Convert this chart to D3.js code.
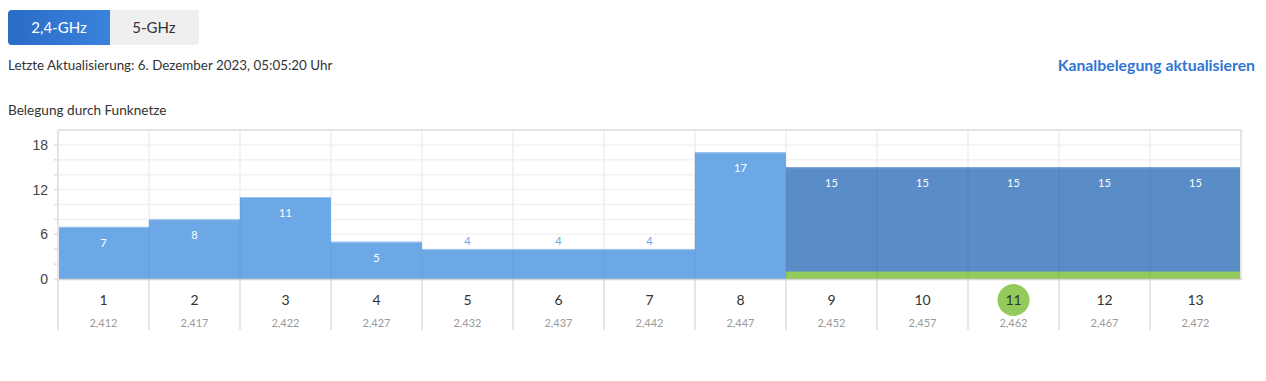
<!DOCTYPE html>
<html>
<head>
<meta charset="utf-8">
<script src="https://cdn.jsdelivr.net/npm/d3@7"></script>
<style>
  body { margin: 0; background: #fff; }
  svg { display: block; font-family: "Source Sans Pro", Lato, "Open Sans", sans-serif; }
</style>
</head>
<body>
<div id="chart-container"></div>
<script>
// Channel occupancy, 2.4 GHz band
const channels = [1, 2, 3, 4, 5, 6, 7, 8, 9, 10, 11, 12, 13];
const frequencies = ["2,412", "2,417", "2,422", "2,427", "2,432", "2,437", "2,442",
                     "2,447", "2,452", "2,457", "2,462", "2,467", "2,472"];
const networks = [7, 8, 11, 5, 4, 4, 4, 17, 15, 15, 15, 15, 15];
// channels covered by the own wifi (green strip underneath)
const ownNetwork = [0, 0, 0, 0, 0, 0, 0, 0, 1, 1, 1, 1, 1];
const activeChannel = 11;
const yTicks = [0, 6, 12, 18];

const W = 1266, H = 381;
const svg = d3.select("#chart-container")
  .append("svg")
  .attr("width", W)
  .attr("height", H);

/**************************************************
 * Header: band tabs, timestamp, refresh link
 **************************************************/
const defs = svg.append("defs");
const grad = defs.append("linearGradient")
  .attr("id", "tabGrad")
  .attr("x1", 0).attr("y1", 0).attr("x2", 1).attr("y2", 0);
grad.append("stop").attr("offset", "0%").attr("stop-color", "#2a6cc6");
grad.append("stop").attr("offset", "100%").attr("stop-color", "#3a82dc");

svg.append("path")
  .attr("d", "M199,10 L199,41 Q199,45 195,45 L110,45 L110,10 Z")
  .attr("fill", "#efefef");
svg.append("path")
  .attr("d", "M12,10 L110,10 L110,45 L12,45 Q8,45 8,41 L8,14 Q8,10 12,10 Z")
  .attr("fill", "url(#tabGrad)");
svg.append("text")
  .attr("x", 59).attr("y", 33)
  .attr("text-anchor", "middle")
  .attr("font-size", "15px")
  .attr("fill", "#fff")
  .text("2,4-GHz");
svg.append("text")
  .attr("x", 154).attr("y", 33)
  .attr("text-anchor", "middle")
  .attr("font-size", "15px")
  .attr("fill", "#333")
  .text("5-GHz");

svg.append("text")
  .attr("x", 8).attr("y", 70)
  .attr("font-size", "13.4px")
  .attr("fill", "#333")
  .text("Letzte Aktualisierung: 6. Dezember 2023, 05:05:20 Uhr");

svg.append("text")
  .attr("x", 1255).attr("y", 71)
  .attr("text-anchor", "end")
  .attr("font-size", "15.8px")
  .attr("font-weight", "bold")
  .attr("fill", "#3176d4")
  .text("Kanalbelegung aktualisieren");

svg.append("text")
  .attr("x", 8).attr("y", 115)
  .attr("font-size", "13.6px")
  .attr("fill", "#333")
  .text("Belegung durch Funknetze");

/**************************************************
 * Chart
 **************************************************/
const plotLeft = 58, plotRight = 1241, plotTop = 130, plotBottom = 279;

const xScale = d3.scaleBand()
  .domain(channels)
  .range([plotLeft, plotRight])
  .padding(0);

const yScale = d3.scaleLinear()
  .domain([0, 20])
  .range([plotBottom, plotTop]);

// horizontal grid every 2 networks
const gridVals = d3.range(2, 20, 2);
svg.append("g")
  .attr("class", "grid-h")
  .selectAll("line")
  .data(gridVals)
  .enter()
  .append("line")
  .attr("x1", plotLeft - 4).attr("x2", plotRight)
  .attr("y1", d => yScale(d)).attr("y2", d => yScale(d))
  .attr("stroke", "#f2f2f2")
  .attr("stroke-width", 1.5);

// vertical grid at channel borders
svg.append("g")
  .attr("class", "grid-v")
  .selectAll("line")
  .data(channels)
  .enter()
  .append("line")
  .attr("x1", d => xScale(d)).attr("x2", d => xScale(d))
  .attr("y1", plotTop).attr("y2", plotBottom)
  .attr("stroke", "#eeeeee")
  .attr("stroke-width", 1.5);

// bars
const groups = svg.selectAll(".bar-group")
  .data(channels.map((c, i) => ({ channel: c, value: networks[i], own: ownNetwork[i] })))
  .enter()
  .append("g")
  .attr("class", "bar-group");

groups.append("rect")
  .attr("class", "bar")
  .attr("x", d => xScale(d.channel))
  .attr("y", d => yScale(d.value))
  .attr("width", xScale.bandwidth())
  .attr("height", d => yScale(0) - yScale(d.value))
  .attr("fill", d => d.own ? "#5a8cc7" : "#6da8e6");

// bar top edge
groups.append("line")
  .attr("x1", d => xScale(d.channel))
  .attr("x2", d => xScale(d.channel) + xScale.bandwidth())
  .attr("y1", d => yScale(d.value) + 0.5)
  .attr("y2", d => yScale(d.value) + 0.5)
  .attr("stroke", d => d.own ? "#7fa6d6" : "#9cc4ee")
  .attr("stroke-width", 1);

// own network strip
groups.filter(d => d.own)
  .append("rect")
  .attr("x", d => xScale(d.channel))
  .attr("y", yScale(1))
  .attr("width", xScale.bandwidth())
  .attr("height", yScale(0) - yScale(1))
  .attr("fill", "#93ca5b");

// faint channel separators over the bars
svg.append("g")
  .selectAll("line")
  .data(channels.slice(1))
  .enter()
  .append("line")
  .attr("x1", d => xScale(d)).attr("x2", d => xScale(d))
  .attr("y1", d => yScale(networks[channels.indexOf(d)])).attr("y2", plotBottom)
  .attr("stroke", "rgba(40,80,140,0.08)")
  .attr("stroke-width", 1.5);

// value labels: inside the bar, or above when the bar is too short
groups.append("text")
  .attr("class", "bar-label")
  .attr("x", d => xScale(d.channel) + xScale.bandwidth() / 2)
  .attr("y", d => d.value > 4 ? yScale(d.value) + 20 : yScale(d.value) - 4)
  .attr("text-anchor", "middle")
  .attr("font-size", "11px")
  .attr("fill", d => d.value > 4 ? "#fff" : "#6da8e6")
  .text(d => d.value);

// plot frame
svg.append("line")
  .attr("x1", plotLeft).attr("x2", plotRight + 1)
  .attr("y1", plotTop).attr("y2", plotTop)
  .attr("stroke", "#e4e4e4").attr("stroke-width", 2);
svg.append("line")
  .attr("x1", plotRight).attr("x2", plotRight)
  .attr("y1", plotTop).attr("y2", plotBottom + 1)
  .attr("stroke", "#e4e4e4").attr("stroke-width", 2);
svg.append("line")
  .attr("x1", plotLeft).attr("x2", plotLeft)
  .attr("y1", plotTop).attr("y2", plotBottom)
  .attr("stroke", "#e4e4e4").attr("stroke-width", 2);
svg.append("line")
  .attr("x1", plotLeft).attr("x2", plotRight + 1)
  .attr("y1", plotBottom + 0.5).attr("y2", plotBottom + 0.5)
  .attr("stroke", "#d4d4d4").attr("stroke-width", 1.5);

// y axis
const yAxis = d3.axisLeft(yScale)
  .tickValues(yTicks)
  .tickSize(0)
  .tickPadding(10);
const yG = svg.append("g")
  .attr("class", "y-axis")
  .attr("transform", `translate(${plotLeft},0)`)
  .call(yAxis);
yG.select(".domain").remove();
yG.selectAll("text")
  .attr("font-family", "inherit")
  .attr("font-size", "14px")
  .attr("fill", "#444");
// small tick marks
svg.append("g")
  .selectAll("line")
  .data(d3.range(0, 20, 2))
  .enter()
  .append("line")
  .attr("x1", plotLeft - 4).attr("x2", plotLeft)
  .attr("y1", d => yScale(d)).attr("y2", d => yScale(d))
  .attr("stroke", "#e0e0e0").attr("stroke-width", 1.5);

// x axis: channel separators, numbers and frequencies
const xG = svg.append("g").attr("class", "x-axis");
xG.selectAll(".sep")
  .data(channels)
  .enter()
  .append("line")
  .attr("class", "sep")
  .attr("x1", d => xScale(d)).attr("x2", d => xScale(d))
  .attr("y1", plotBottom + 1).attr("y2", 330)
  .attr("stroke", "#cccccc").attr("stroke-width", 1);

xG.append("circle")
  .attr("cx", xScale(activeChannel) + xScale.bandwidth() / 2)
  .attr("cy", 300)
  .attr("r", 16)
  .attr("fill", "#93ca5b");

xG.selectAll(".ch")
  .data(channels)
  .enter()
  .append("text")
  .attr("class", "ch")
  .attr("x", d => xScale(d) + xScale.bandwidth() / 2)
  .attr("y", 305)
  .attr("text-anchor", "middle")
  .attr("font-size", "14px")
  .attr("fill", "#333")
  .text(d => d);

xG.selectAll(".freq")
  .data(channels)
  .enter()
  .append("text")
  .attr("class", "freq")
  .attr("x", d => xScale(d) + xScale.bandwidth() / 2)
  .attr("y", 327)
  .attr("text-anchor", "middle")
  .attr("font-size", "11px")
  .attr("fill", "#9a9a9a")
  .text((d, i) => frequencies[i]);
</script>
</body>
</html>
